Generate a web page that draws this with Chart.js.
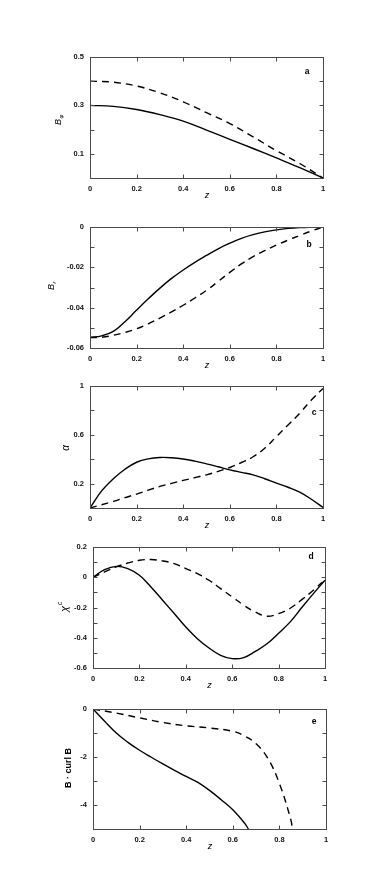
<!DOCTYPE html>
<html><head><meta charset="utf-8">
<script src="https://cdn.jsdelivr.net/npm/chart.js@4.4.0/dist/chart.umd.min.js"></script>
<style>
html,body{margin:0;padding:0;background:#fff;width:382px;height:879px;overflow:hidden;position:relative;}
canvas{position:absolute;left:0;}
</style></head><body>
<canvas id="ca"></canvas>
<canvas id="cb"></canvas>
<canvas id="cc"></canvas>
<canvas id="cd"></canvas>
<canvas id="ce"></canvas>
<script>
// ---- data ----
const xTicks = [0, 0.2, 0.4, 0.6, 0.8, 1];

const zA = [0,0.1,0.2,0.3,0.4,0.5,0.6,0.7,0.8,0.9,1.0];
const aSolid  = [0.300,0.296,0.283,0.262,0.235,0.198,0.160,0.122,0.083,0.043,0.000];
const aDashed = [0.400,0.396,0.380,0.352,0.315,0.270,0.225,0.170,0.113,0.060,0.000];
const aTickLabels = [0.1, 0.3, 0.5];

const zB = [0,0.05,0.1,0.15,0.2,0.25,0.3,0.35,0.4,0.45,0.5,0.55,0.6,0.65,0.7,0.75,0.8,0.85,0.9,0.95,1.0];
const bSolid  = [-0.0548,-0.0540,-0.0518,-0.0470,-0.0412,-0.0356,-0.0303,-0.0255,-0.0213,-0.0175,-0.0141,-0.0108,-0.0080,-0.0056,-0.0038,-0.0024,-0.0014,-0.0007,-0.0003,-0.0001,0];
const bDashed = [-0.0548,-0.0547,-0.0537,-0.0523,-0.0505,-0.0480,-0.0452,-0.0421,-0.0388,-0.0352,-0.0314,-0.0270,-0.0225,-0.0183,-0.0147,-0.0117,-0.0090,-0.0065,-0.0042,-0.0020,0];
const bTickLabels = [0, -0.02, -0.04, -0.06];

const zC = [0,0.05,0.1,0.15,0.2,0.25,0.3,0.35,0.4,0.45,0.5,0.55,0.6,0.65,0.7,0.75,0.8,0.85,0.9,0.95,1.0];
const cSolid  = [0,0.14,0.24,0.318,0.375,0.403,0.414,0.412,0.402,0.384,0.362,0.338,0.313,0.292,0.272,0.24,0.204,0.17,0.13,0.072,0.005];
const cDashed = [0,0.027,0.054,0.085,0.114,0.146,0.177,0.202,0.226,0.249,0.272,0.3,0.332,0.373,0.42,0.49,0.585,0.68,0.777,0.885,0.98];
const cTickLabels = [0.2, 0.6, 1];

const zD = [0,0.05,0.1,0.15,0.2,0.25,0.3,0.35,0.4,0.45,0.5,0.55,0.6,0.65,0.7,0.75,0.8,0.85,0.9,0.95,1.0];
const dSolid  = [0,0.05,0.072,0.057,0.013,-0.064,-0.152,-0.24,-0.329,-0.406,-0.468,-0.516,-0.538,-0.531,-0.49,-0.44,-0.37,-0.295,-0.2,-0.108,-0.02];
const dDashed = [0,0.035,0.068,0.094,0.112,0.117,0.108,0.09,0.057,0.024,-0.02,-0.075,-0.13,-0.185,-0.23,-0.258,-0.24,-0.205,-0.148,-0.086,-0.016];
const dTickLabels = [0.2, 0, -0.2, -0.4, -0.6];

const zE1 = [0,0.05,0.1,0.15,0.2,0.25,0.3,0.35,0.4,0.45,0.5,0.55,0.6,0.65,0.667];
const eSolid  = [0,-0.51,-1.0,-1.39,-1.72,-2.01,-2.29,-2.56,-2.81,-3.06,-3.39,-3.78,-4.2,-4.75,-5.0];
const zE2 = [0,0.1,0.2,0.3,0.4,0.5,0.6,0.65,0.7,0.75,0.8,0.85,0.855];
const eDashed = [0,-0.17,-0.37,-0.56,-0.70,-0.79,-0.93,-1.12,-1.45,-2.05,-3.1,-4.65,-5.0];
const eTickLabels = [0, -2, -4];

// ---- drawing ----
const W = 382;
const FONT = "'Liberation Sans', Arial, sans-serif";
const pts = (xs, ys) => xs.map((x, i) => ({x, y: ys[i]}));
const near = (v, list) => list.some(l => Math.abs(l - v) < 1e-9);
const fmt = v => String(Math.round(v * 10000) / 10000);

const framePlugin = {
  id: 'frame',
  afterDatasetsDraw(chart, args, o) {
    const ctx = chart.ctx, a = chart.chartArea;
    const L = Math.round(a.left) + 0.5, R = Math.round(a.right) + 0.5;
    const T = Math.round(a.top) + 0.5, B = Math.round(a.bottom) + 0.5;
    ctx.save();
    ctx.strokeStyle = '#4a4a4a';
    ctx.lineWidth = 1;
    ctx.strokeRect(L, T, R - L, B - T);
    ctx.beginPath();
    const tl = 4;
    chart.scales.x.ticks.forEach(t => {
      const p = Math.round(chart.scales.x.getPixelForValue(t.value)) + 0.5;
      if (p <= L + 1 || p >= R - 1) return;
      ctx.moveTo(p, B); ctx.lineTo(p, B - tl);
      ctx.moveTo(p, T); ctx.lineTo(p, T + tl);
    });
    chart.scales.y.ticks.forEach(t => {
      const p = Math.round(chart.scales.y.getPixelForValue(t.value)) + 0.5;
      if (p <= T + 1 || p >= B - 1) return;
      ctx.moveTo(L, p); ctx.lineTo(L + tl, p);
      ctx.moveTo(R, p); ctx.lineTo(R - tl, p);
    });
    ctx.stroke();
    ctx.fillStyle = '#000';
    ctx.font = 'italic 9px ' + FONT;
    ctx.textAlign = 'center';
    ctx.textBaseline = 'middle';
    ctx.fillText('z', (a.left + a.right) / 2 + 0.5, a.bottom + 17);
    ctx.font = 'bold 8.5px ' + FONT;
    ctx.fillText(o.letter, o.lx, o.ly - chart.canvas.offsetTop);
    ctx.translate(o.tx, o.ty - chart.canvas.offsetTop);
    ctx.rotate(-Math.PI / 2);
    o.ytitle(ctx);
    ctx.restore();
  }
};

function makeChart(id, cfg) {
  const cv = document.getElementById(id);
  const padTop = 20, xH = 30;
  const h = padTop + (cfg.B - cfg.T) + xH;
  cv.width = W; cv.height = h;
  cv.style.top = (cfg.T - padTop) + 'px';
  cv.style.width = W + 'px'; cv.style.height = h + 'px';
  return new Chart(cv, {
    type: 'line',
    data: {
      datasets: cfg.series.map(s => ({
        data: pts(s.x, s.y),
        borderColor: '#000',
        borderWidth: 1.4,
        borderDash: s.dash ? [7, 5] : [],
        pointRadius: 0,
        fill: false,
        tension: 0.4
      }))
    },
    options: {
      responsive: false,
      devicePixelRatio: 1,
      animation: false,
      events: [],
      layout: { padding: { top: padTop, left: 0, right: W - cfg.R, bottom: 0 } },
      plugins: {
        legend: { display: false },
        tooltip: { enabled: false },
        frame: cfg.frame
      },
      scales: {
        x: {
          type: 'linear', min: 0, max: 1,
          afterBuildTicks: s => { s.ticks = xTicks.map(v => ({value: v})); },
          afterFit: s => { s.height = xH; },
          grid: { display: false, drawTicks: false },
          border: { display: false },
          ticks: {
            padding: 6, color: '#111',
            font: { family: FONT, size: 7.5, weight: 'bold' },
            maxRotation: 0, autoSkip: false,
            callback: v => fmt(v)
          }
        },
        y: {
          type: 'linear', min: cfg.ymin, max: cfg.ymax,
          ticks: {
            stepSize: cfg.step, padding: 6, color: '#111',
            font: { family: FONT, size: 7.5, weight: 'bold' },
            autoSkip: false,
            callback: v => near(v, cfg.labels) ? fmt(v) : ''
          },
          afterFit: s => { s.width = cfg.L; },
          grid: { display: false, drawTicks: false },
          border: { display: false }
        }
      }
    },
    plugins: [framePlugin]
  });
}

function sub(main, mfont, small, sfont, dx, dy) {
  return ctx => {
    ctx.fillStyle = '#000';
    ctx.textBaseline = 'middle';
    ctx.font = mfont;
    const w = ctx.measureText(main).width;
    ctx.textAlign = 'left';
    ctx.fillText(main, -w / 2, 0);
    ctx.font = sfont;
    ctx.fillText(small, w / 2 + dx, dy);
  };
}

makeChart('ca', {
  L: 90, R: 323, T: 57, B: 178, ymin: 0, ymax: 0.5, step: 0.1, labels: aTickLabels,
  series: [{x: zA, y: aSolid}, {x: zA, y: aDashed, dash: true}],
  frame: { letter: 'a', lx: 307, ly: 72, tx: 58.5, ty: 122,
    ytitle: sub('B', 'italic 9px ' + FONT, 'φ', 'italic 6px ' + FONT, 0.5, 3) }
});
makeChart('cb', {
  L: 90, R: 323, T: 227, B: 348, ymin: -0.06, ymax: 0, step: 0.01, labels: bTickLabels,
  series: [{x: zB, y: bSolid}, {x: zB, y: bDashed, dash: true}],
  frame: { letter: 'b', lx: 309, ly: 245, tx: 51.5, ty: 287,
    ytitle: sub('B', 'italic 9px ' + FONT, 'r', 'italic 6px ' + FONT, 0.5, 3) }
});
makeChart('cc', {
  L: 90, R: 323, T: 386, B: 508, ymin: 0, ymax: 1, step: 0.2, labels: cTickLabels,
  series: [{x: zC, y: cSolid}, {x: zC, y: cDashed, dash: true}],
  frame: { letter: 'c', lx: 314, ly: 413, tx: 66, ty: 448,
    ytitle: sub('α', 'italic 10px ' + FONT, '', 'italic 6px ' + FONT, 0, 0) }
});
makeChart('cd', {
  L: 93, R: 325, T: 547, B: 668, ymin: -0.6, ymax: 0.2, step: 0.1, labels: dTickLabels,
  series: [{x: zD, y: dSolid}, {x: zD, y: dDashed, dash: true}],
  frame: { letter: 'd', lx: 311, ly: 557, tx: 64.5, ty: 609,
    ytitle: sub('χ', 'italic 11px ' + FONT, 'c', 'italic 6.5px ' + FONT, 1, -4) }
});
makeChart('ce', {
  L: 93, R: 326, T: 709, B: 829, ymin: -5, ymax: 0, step: 1, labels: eTickLabels,
  series: [{x: zE1, y: eSolid}, {x: zE2, y: eDashed, dash: true}],
  frame: { letter: 'e', lx: 314, ly: 722, tx: 69, ty: 768,
    ytitle: ctx => { ctx.fillStyle = '#000'; ctx.textAlign = 'center'; ctx.textBaseline = 'middle';
      ctx.font = 'bold 9px ' + FONT; ctx.fillText('B · curl B', 0, 0); } }
});
</script>
</body></html>
